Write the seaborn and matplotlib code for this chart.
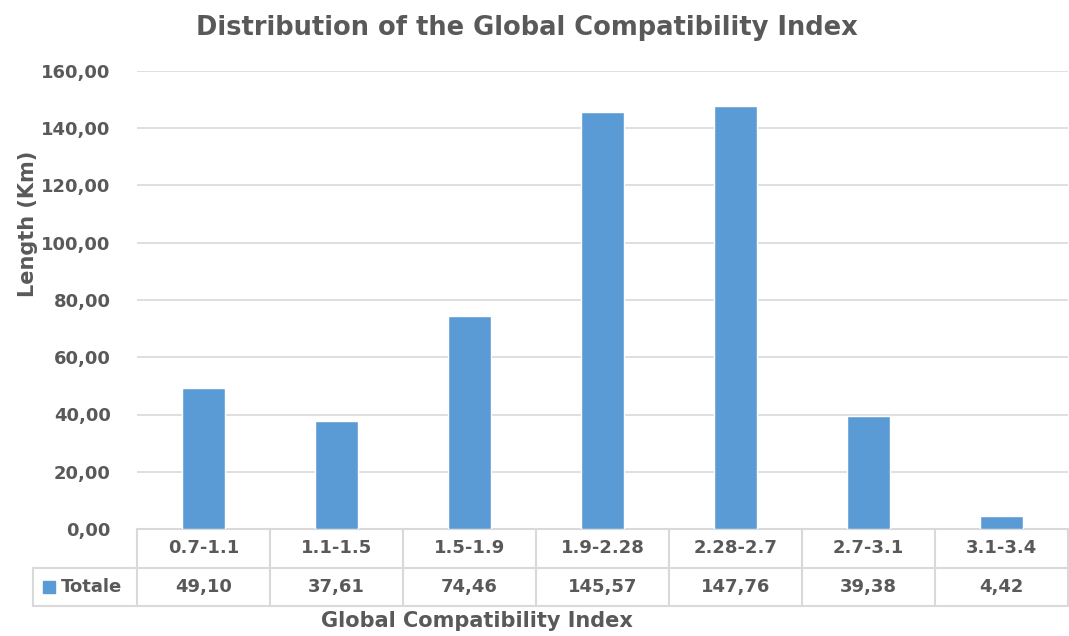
import matplotlib
matplotlib.use("Agg")
import matplotlib.pyplot as plt
import seaborn as sns
import pandas as pd
from matplotlib.lines import Line2D
from matplotlib.patches import Rectangle

# data
categories = ["0.7-1.1", "1.1-1.5", "1.5-1.9", "1.9-2.28", "2.28-2.7", "2.7-3.1", "3.1-3.4"]
totale = [49.10, 37.61, 74.46, 145.57, 147.76, 39.38, 4.42]
y_ticks = [0, 20, 40, 60, 80, 100, 120, 140, 160]
series_name = "Totale"

df = pd.DataFrame({"range": categories, "length": totale})

sns.set_style("white")
plt.rcParams["font.family"] = ["DejaVu Sans"]
plt.rcParams["font.weight"] = "bold"

text_col = "#595959"
grid_col = "#D9D9D9"
bar_col = "#5B9BD5"

W, H = 1069, 636
fig = plt.figure(figsize=(W / 100, H / 100), dpi=100)
ax = fig.add_axes([137 / W, 1 - 529 / H, (1068 - 137) / W, (529 - 71) / H])

sns.barplot(data=df, x="range", y="length", color=bar_col, width=0.33,
            saturation=1, ax=ax, zorder=3)

ax.set_ylim(0, 160)
ax.set_xlim(-0.5, len(categories) - 0.5)
ax.set_yticks(y_ticks)
ax.set_yticklabels([f"{v:.2f}".replace(".", ",") for v in y_ticks],
                   color=text_col, fontsize=13, fontweight="bold")
ax.tick_params(axis="y", length=0, pad=19)
ax.tick_params(axis="x", length=0, labelbottom=False)
ax.set_xlabel("")
ax.set_ylabel("")
ax.yaxis.grid(True, color=grid_col, linewidth=1.2, zorder=0)
for s in ax.spines.values():
    s.set_visible(False)

# data table under the plot
tr = ax.get_xaxis_transform()
row_h = 38.5 / (529 - 71)
n = len(categories)
line_kw = dict(color=grid_col, linewidth=1.5, clip_on=False, transform=tr)
for i in range(n + 1):
    ax.add_line(Line2D([i - 0.5, i - 0.5], [0, -2 * row_h], **line_kw))
ax.add_line(Line2D([-0.5, n - 0.5], [0, 0], **line_kw))
for r in (1, 2):
    ax.add_line(Line2D([-0.5, n - 0.5], [-r * row_h, -r * row_h], **line_kw))

for i, (c, v) in enumerate(zip(categories, totale)):
    ax.text(i, -0.5 * row_h, c, transform=tr, ha="center", va="center",
            fontsize=13, fontweight="bold", color=text_col)
    ax.text(i, -1.5 * row_h, f"{v:.2f}".replace(".", ","), transform=tr,
            ha="center", va="center", fontsize=13, fontweight="bold", color=text_col)

# legend key cell
fig_kw = dict(color=grid_col, linewidth=1.5)
x0 = 33 / W
xa = 137 / W
y1 = 1 - 568 / H
y2 = 1 - 606 / H
fig.add_artist(Line2D([x0, xa], [y1, y1], **fig_kw))
fig.add_artist(Line2D([x0, xa], [y2, y2], **fig_kw))
fig.add_artist(Line2D([x0, x0], [y1, y2], **fig_kw))
fig.add_artist(Rectangle((43 / W, 1 - 593 / H), 12 / W, 12 / H, color=bar_col))
fig.text(61 / W, 1 - 587 / H, series_name, ha="left", va="center",
         fontsize=13, fontweight="bold", color=text_col)

fig.text(527 / W, 1 - 28 / H, "Distribution of the Global Compatibility Index",
         ha="center", va="center", fontsize=18.5, fontweight="bold", color=text_col)
fig.text(477 / W, 1 - 621 / H, "Global Compatibility Index", ha="center", va="center",
         fontsize=15, fontweight="bold", color=text_col)
fig.text(28 / W, 1 - 224 / H, "Length (Km)", ha="center", va="center", rotation=90,
         fontsize=15, fontweight="bold", color=text_col)

fig.savefig("out.png", dpi=100, facecolor="white")
